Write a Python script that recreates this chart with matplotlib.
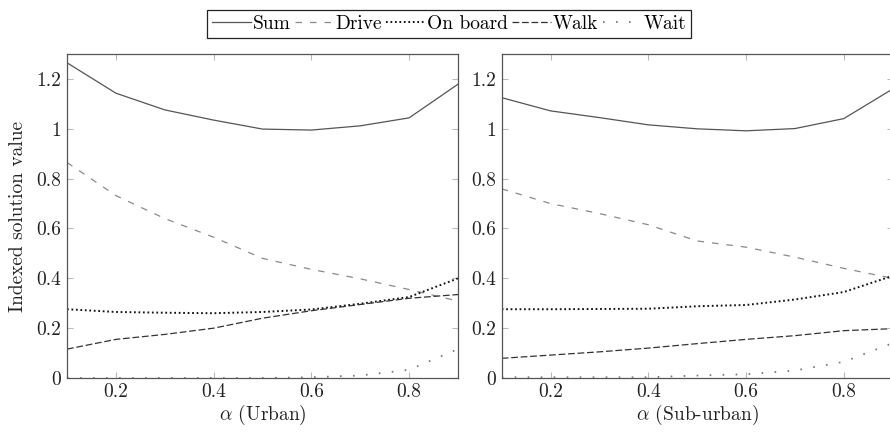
import numpy as np
import matplotlib.pyplot as plt
from matplotlib.ticker import FuncFormatter, MultipleLocator

plt.rcParams['font.family'] = 'serif'
plt.rcParams['font.serif'] = ['cmr10', 'DejaVu Serif']
plt.rcParams['mathtext.fontset'] = 'cm'
plt.rcParams['axes.formatter.use_mathtext'] = True

# alpha values
alpha = [0.1, 0.2, 0.3, 0.4, 0.5, 0.6, 0.7, 0.8, 0.9]

# Urban
urban_sum = [1.265, 1.143, 1.076, 1.035, 0.999, 0.995, 1.012, 1.044, 1.179]
urban_drive = [0.865, 0.732, 0.640, 0.565, 0.480, 0.436, 0.398, 0.355, 0.309]
urban_onboard = [0.276, 0.265, 0.262, 0.260, 0.265, 0.275, 0.298, 0.325, 0.400]
urban_walk = [0.116, 0.155, 0.175, 0.200, 0.240, 0.270, 0.295, 0.320, 0.335]
urban_wait = [0.0, 0.0, 0.0, 0.0, 0.0, 0.003, 0.010, 0.033, 0.116]

# Sub-urban
sub_sum = [1.125, 1.072, 1.045, 1.016, 1.000, 0.992, 1.001, 1.041, 1.160]
sub_drive = [0.759, 0.700, 0.660, 0.615, 0.550, 0.525, 0.485, 0.440, 0.400]
sub_onboard = [0.276, 0.276, 0.277, 0.278, 0.288, 0.293, 0.315, 0.345, 0.410]
sub_walk = [0.079, 0.092, 0.105, 0.120, 0.138, 0.155, 0.170, 0.190, 0.198]
sub_wait = [0.003, 0.003, 0.003, 0.003, 0.010, 0.015, 0.030, 0.065, 0.140]

labels = ['Sum', 'Drive', 'On board', 'Walk', 'Wait']
styles = [
    dict(color='#555555', lw=0.9, linestyle='-'),
    dict(color='#8a8a8a', lw=0.9, dashes=(5.2, 6.4)),
    dict(color='#111111', lw=1.4, dashes=(0.9, 1.4)),
    dict(color='#333333', lw=0.9, dashes=(5.4, 2.2)),
    dict(color='#777777', lw=1.3, dashes=(0.9, 6.3)),
]

fs = 14
fig = plt.figure(figsize=(8.9, 4.36), dpi=100)
ax1 = fig.add_axes([0.0753, 0.133, 0.4393, 0.743])
ax2 = fig.add_axes([0.5637, 0.133, 0.4393, 0.743])

data = [
    (ax1, [urban_sum, urban_drive, urban_onboard, urban_walk, urban_wait], r'$\alpha$ (Urban)'),
    (ax2, [sub_sum, sub_drive, sub_onboard, sub_walk, sub_wait], r'$\alpha$ (Sub-urban)'),
]

fmt = FuncFormatter(lambda v, p: f'{v:g}')
for ax, series, xlab in data:
    for s, lab, st in zip(series, labels, styles):
        ax.plot(alpha, s, label=lab, **st)
    ax.set_xlim(0.1, 0.9)
    ax.set_ylim(0, 1.3)
    ax.xaxis.set_major_locator(MultipleLocator(0.2))
    ax.yaxis.set_major_locator(MultipleLocator(0.2))
    ax.xaxis.set_major_formatter(fmt)
    ax.yaxis.set_major_formatter(fmt)
    ax.tick_params(direction='in', top=True, right=True, length=4, width=0.8,
                   color='#bbbbbb', labelsize=fs, labelcolor='#222222', pad=4)
    for sp in ax.spines.values():
        sp.set_color('#555555')
        sp.set_linewidth(0.9)
    ax.set_xlabel(xlab, fontsize=fs, color='#222222', labelpad=1)

ax1.set_ylabel('Indexed solution value', fontsize=fs, color='#222222', labelpad=7)

handles, labs = ax1.get_legend_handles_labels()
leg = fig.legend(handles, labs, loc='center', bbox_to_anchor=(0.5045, 0.945), ncol=5,
                 fontsize=fs, handlelength=2.0, handletextpad=0.1, columnspacing=0.22,
                 fancybox=False, edgecolor='#222222', framealpha=1, borderpad=0.25,
                 borderaxespad=0)
leg.get_frame().set_linewidth(0.9)

fig.savefig('out.png', dpi=100)
